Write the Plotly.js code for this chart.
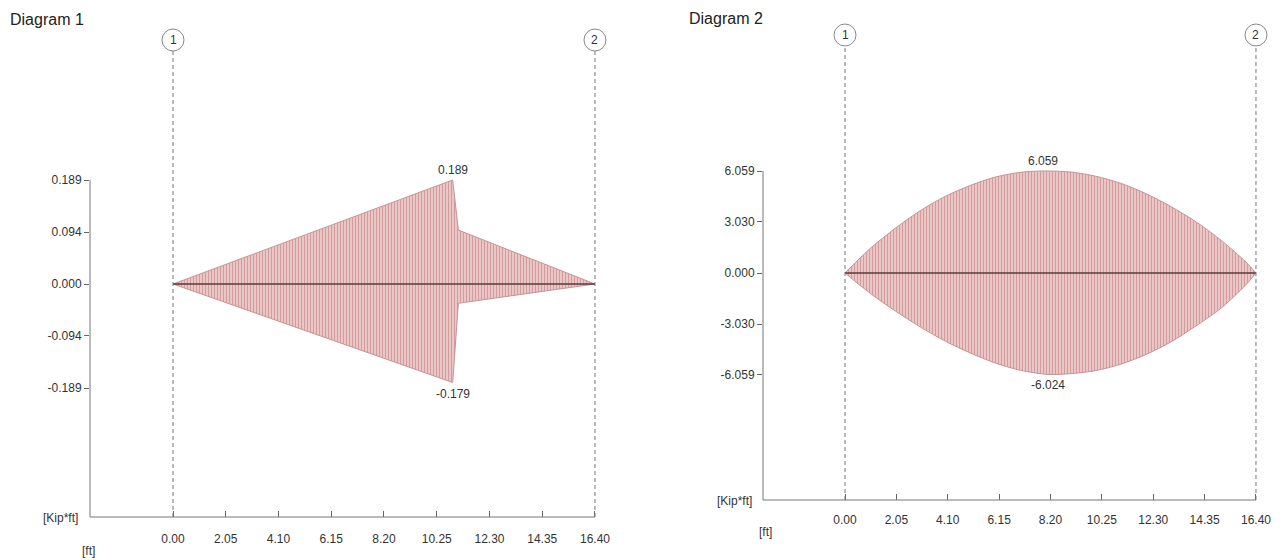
<!DOCTYPE html>
<html>
<head>
<meta charset="utf-8">
<script src="https://cdn.plot.ly/plotly-3.0.1.min.js"></script>
<style>html,body{margin:0;padding:0;background:#fff;}#chart{width:1282px;height:560px;}</style>
</head>
<body>
<div id="chart"></div>
<script>
// ---- Data ----
const xTickVals = [0, 2.05, 4.10, 6.15, 8.20, 10.25, 12.30, 14.35, 16.40];
const xTickText = ["0.00","2.05","4.10","6.15","8.20","10.25","12.30","14.35","16.40"];

// Diagram 1
const d1TickVals = [0.189, 0.094, 0.000, -0.094, -0.189];
const d1TickText = ["0.189","0.094","0.000","-0.094","-0.189"];
const d1UpperX = [0, 10.87, 11.09, 16.40];
const d1UpperY = [0, 0.189, 0.098, 0];
const d1LowerX = [0, 10.87, 11.09, 16.40];
const d1LowerY = [0, -0.179, -0.035, 0];
const d1MaxLabel = {x: 10.87, y: 0.189, text: "0.189"};
const d1MinLabel = {x: 10.87, y: -0.179, text: "-0.179"};

// Diagram 2
const d2TickVals = [6.059, 3.030, 0.000, -3.030, -6.059];
const d2TickText = ["6.059","3.030","0.000","-3.030","-6.059"];
const d2UpperX = [0, 1, 2, 3, 4, 5, 6, 7, 7.9, 9, 10, 11, 12, 13, 14, 15, 16, 16.4];
const d2UpperY = [0, 1.45, 2.65, 3.7, 4.55, 5.2, 5.7, 5.98, 6.059, 6.0, 5.75, 5.33, 4.72, 3.95, 3.05, 1.95, 0.65, 0];
const d2LowerX = [0, 1, 2, 3, 4, 5, 6, 7, 8.1, 9, 10, 11, 12, 13, 14, 15, 16, 16.4];
const d2LowerY = [0, -1.2, -2.25, -3.2, -4.05, -4.75, -5.35, -5.78, -6.024, -5.98, -5.8, -5.42, -4.85, -4.1, -3.15, -2.1, -0.7, 0];
const d2MaxLabel = {x: 7.9, y: 6.059, text: "6.059"};
const d2MinLabel = {x: 8.1, y: -6.024, text: "-6.024"};

const nodeX = [0, 16.40];
const nodeNames = ["1", "2"];

// ---- Styles ----
const FONT = "Liberation Sans, Arial, sans-serif";
const TXT = "#333";
const fillPat = {shape: "|", bgcolor: "#ebc6c6", fgcolor: "#cf9797", size: 3, solidity: 0.3};
const EDGE = {color: "#c49494", width: 1};

function polygon(ux, uy, lx, ly) {
  const xs = ux.slice(), ys = uy.slice();
  for (let i = lx.length - 1; i >= 0; i--) { xs.push(lx[i]); ys.push(ly[i]); }
  return {xs, ys};
}

const p1 = polygon(d1UpperX, d1UpperY, d1LowerX, d1LowerY);

function zeroLine(xs, xa, ya) {
  return {x: [xs[0], xs[xs.length-1]], y: [0, 0], xaxis: xa, yaxis: ya,
    type: "scatter", mode: "lines", line: {color: "#5a3a3a", width: 1.5}, hoverinfo: "skip"};
}

const traces = [
  {x: p1.xs, y: p1.ys, xaxis: "x", yaxis: "y", type: "scatter", mode: "lines",
   fill: "toself", fillcolor: "#e6baba", fillpattern: fillPat, line: EDGE, hoverinfo: "skip"},
  zeroLine(d1UpperX, "x", "y"),
  {x: d2UpperX, y: d2UpperY, xaxis: "x2", yaxis: "y2", type: "scatter", mode: "lines",
   fill: "tozeroy", fillcolor: "#e6baba", fillpattern: fillPat,
   line: {color: EDGE.color, width: 1, shape: "spline", smoothing: 0.8}, hoverinfo: "skip"},
  {x: d2LowerX, y: d2LowerY, xaxis: "x2", yaxis: "y2", type: "scatter", mode: "lines",
   fill: "tozeroy", fillcolor: "#e6baba", fillpattern: fillPat,
   line: {color: EDGE.color, width: 1, shape: "spline", smoothing: 0.8}, hoverinfo: "skip"},
  zeroLine(d2UpperX, "x2", "y2")
];

function xax(domain, range, anchor, standoff) {
  return {domain, range, anchor, showgrid: false, zeroline: false, showline: false,
    tickmode: "array", tickvals: xTickVals, ticktext: xTickText, ticks: "inside", ticklen: 6,
    tickcolor: "#666", tickwidth: 1, ticklabelstandoff: standoff,
    tickfont: {family: FONT, size: 12, color: TXT}, fixedrange: true};
}
function yax(domain, range, anchor, vals, text) {
  return {domain, range, anchor, showgrid: false, zeroline: false, showline: false,
    tickmode: "array", tickvals: vals, ticktext: text, ticks: "outside", ticklen: 5,
    tickcolor: "#666", tickwidth: 1,
    tickfont: {family: FONT, size: 12, color: TXT}, fixedrange: true};
}

const shapes = [];
const annotations = [];

function decorate(xr, xRange, yRange, yDomRef, yAxRef, topDom, circY, topTick, maxL, minL) {
  shapes.push({type: "line", xref: xr + " domain", yref: yAxRef, x0: 0, x1: 0,
    y0: yRange[0], y1: topTick, line: {color: "#777", width: 1}});
  shapes.push({type: "line", xref: xr, yref: yDomRef, x0: xRange[0], x1: nodeX[1], y0: 0, y1: 0,
    line: {color: "#777", width: 1}});
  nodeX.forEach((nx, i) => {
    shapes.push({type: "line", xref: xr, yref: yDomRef, x0: nx, x1: nx, y0: 0, y1: topDom,
      line: {color: "#777", width: 1, dash: "4px,3px"}});
    shapes.push({type: "circle", xref: xr, yref: "paper", xsizemode: "pixel", ysizemode: "pixel",
      xanchor: nx, yanchor: circY, x0: -11, x1: 11, y0: -11, y1: 11,
      line: {color: "#888", width: 1}, fillcolor: "#fff"});
    annotations.push({xref: xr, yref: "paper", x: nx, y: circY, text: nodeNames[i], showarrow: false,
      font: {family: FONT, size: 12, color: TXT}, xanchor: "center", yanchor: "middle"});
  });
  annotations.push({xref: xr, yref: yAxRef, x: maxL.x, y: maxL.y, text: maxL.text, showarrow: false,
    yanchor: "bottom", yshift: 1, font: {family: FONT, size: 12, color: TXT}});
  annotations.push({xref: xr, yref: yAxRef, x: minL.x, y: minL.y, text: minL.text, showarrow: false,
    yanchor: "top", yshift: -2, font: {family: FONT, size: 12, color: TXT}});
}

const H = 560, W = 1282;
const y1Range = [-0.4234, 0.5161], x1Range = [-3.226, 17.0];
const y2Range = [-13.485, 16.217], x2Range = [-3.272, 17.0];

decorate("x", x1Range, y1Range, "y domain", "y", (517-51)/517, 1 - 40/H, d1TickVals[0], d1MaxLabel, d1MinLabel);
decorate("x2", x2Range, y2Range, "y2 domain", "y2", (500-46)/500, 1 - 35/H, d2TickVals[0], d2MaxLabel, d2MinLabel);

// titles and unit labels
function label(px, py, text, anchor, size, color) {
  annotations.push({xref: "paper", yref: "paper", x: px/W, y: 1 - py/H, text, showarrow: false,
    xanchor: anchor, yanchor: "middle", font: {family: FONT, size, color}});
}
label(8, 20, "Diagram 1", "left", 16, "#222");
label(687, 18, "Diagram 2", "left", 16, "#222");
label(80, 518, "[Kip*ft]", "right", 12, TXT);
label(88, 551, "[ft]", "center", 12, TXT);
label(754, 501, "[Kip*ft]", "right", 12, TXT);
label(765, 532, "[ft]", "center", 12, TXT);

const layout = {
  width: W, height: H, margin: {l: 0, r: 0, t: 0, b: 0},
  paper_bgcolor: "#fff", plot_bgcolor: "rgba(0,0,0,0)", showlegend: false,
  xaxis: xax([90/W, (173 + 17*25.73)/W], x1Range, "y", 13),
  yaxis: yax([(H-517)/H, 1], y1Range, "x", d1TickVals, d1TickText),
  xaxis2: xax([763/W, (845 + 17*25.06)/W], x2Range, "y2", 11),
  yaxis2: yax([(H-500)/H, 1], y2Range, "x2", d2TickVals, d2TickText),
  shapes, annotations
};

Plotly.newPlot("chart", traces, layout, {staticPlot: true, displayModeBar: false});
</script>
</body>
</html>
